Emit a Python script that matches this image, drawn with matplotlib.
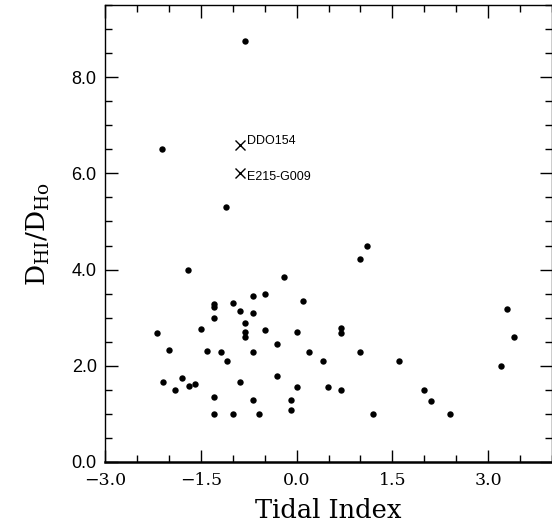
#!/usr/bin/env python3

import matplotlib
matplotlib.use('Agg')
import matplotlib.pyplot as plt
from matplotlib.ticker import MultipleLocator, FuncFormatter

plt.rcParams['mathtext.fontset'] = 'dejavuserif'

# tidal index vs HI/Holmberg diameter ratio
tidal = [-0.80, -2.10, -1.10, -1.70, -0.20, -0.69, -0.50, 0.10, -1.29, -1.29,
         -1.00, -0.89, -0.69, -1.29, -0.80, -1.50, -0.50, 0.00, -2.19, -0.80,
         -0.80, -0.30, -2.00, -1.40, -1.19, -0.69, 0.20, -1.09, 0.41, -0.30,
         -1.80, -2.09, -0.89, -1.59, -1.69, 0.00, 0.49, -1.90, -1.29, -0.09,
         -0.69, -0.09, -1.29, -1.00, -0.59, 1.10, 1.00, 0.70, 0.70, 1.00,
         1.60, 0.70, 1.20, 2.00, 2.11, 2.41, 3.30, 3.41, 3.20]
ratio = [8.76, 6.50, 5.30, 4.00, 3.84, 3.45, 3.50, 3.34, 3.28, 3.22,
         3.30, 3.13, 3.10, 3.00, 2.88, 2.77, 2.74, 2.71, 2.69, 2.70,
         2.59, 2.46, 2.33, 2.30, 2.29, 2.29, 2.29, 2.10, 2.10, 1.78,
         1.74, 1.66, 1.66, 1.63, 1.58, 1.56, 1.56, 1.49, 1.35, 1.29,
         1.28, 1.08, 1.00, 1.00, 1.00, 4.50, 4.22, 2.79, 2.69, 2.29,
         2.10, 1.49, 1.00, 1.49, 1.26, 1.00, 3.19, 2.59, 1.99]

# the two labelled objects
special_names = ['DDO154', 'E215-G009']
special_tidal = [-0.89, -0.89]
special_ratio = [6.60, 6.00]


def fmtTick(val, pos):
    # one decimal, proper minus sign
    return ('%.1f' % val).replace('-', '\u2212')


fig = plt.figure(figsize=(5.52, 5.24), dpi=100)
ax = fig.add_axes([105/552, 62/524, 447/552, 457/524])

ax.plot(tidal, ratio, 'o', color='black', markersize=4.6, markeredgewidth=0)
ax.plot(special_tidal, special_ratio, 'x', color='black', markersize=7,
        markeredgewidth=1.0)
for name, xx, yy in zip(special_names, special_tidal, special_ratio):
    dy = 0.07 if name == 'DDO154' else -0.07
    ax.text(xx + 0.11, yy + dy, name, fontsize=9, family='Liberation Sans',
            va='center', ha='left')

ax.set_xlim(-3.0, 4.0)
ax.set_ylim(0.0, 9.5)
ax.xaxis.set_major_locator(MultipleLocator(1.5))
ax.xaxis.set_minor_locator(MultipleLocator(0.5))
ax.yaxis.set_major_locator(MultipleLocator(2.0))
ax.yaxis.set_minor_locator(MultipleLocator(0.5))
ax.xaxis.set_major_formatter(FuncFormatter(fmtTick))
ax.yaxis.set_major_formatter(FuncFormatter(fmtTick))

ax.tick_params(which='both', direction='in', top=True, right=True, width=1)
ax.tick_params(which='major', length=9)
ax.tick_params(which='minor', length=5)
ax.tick_params(axis='x', pad=7)
ax.tick_params(axis='y', pad=6)
for lab in ax.get_xticklabels():
    lab.set_family('DejaVu Serif')
    lab.set_fontsize(12.5)
for lab in ax.get_yticklabels():
    lab.set_family('Liberation Sans')
    lab.set_fontsize(13)

for side in ['left', 'top', 'right']:
    ax.spines[side].set_linewidth(1.0)
ax.spines['bottom'].set_linewidth(1.8)

ax.set_xlabel('Tidal Index', family='DejaVu Serif', fontsize=18.5, labelpad=7)
ax.set_ylabel(r'$\mathrm{D_{HI}/D_{Ho}}$', fontsize=19, labelpad=14)

fig.savefig('out.png', dpi=100)
print("Figure saved to out.png")
